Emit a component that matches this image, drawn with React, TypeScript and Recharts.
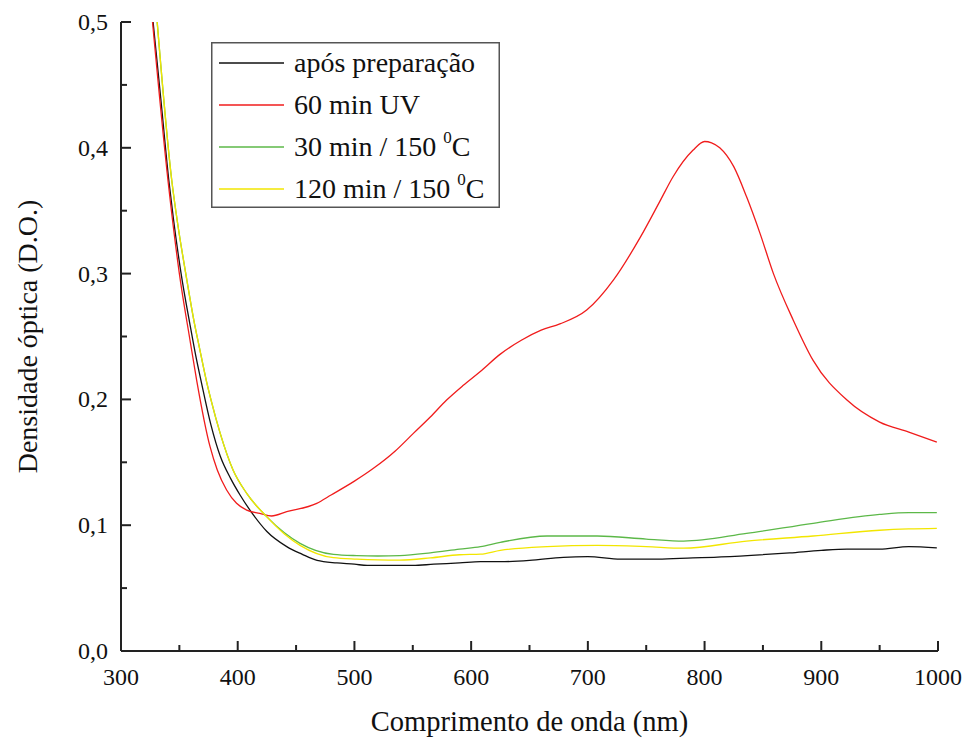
import React from 'react';
import { LineChart, Line, XAxis, YAxis, Legend } from 'recharts';

// ---- data (wavelength in nm, optical density) ----
const blackNm = [327.5, 334, 341, 345, 351.5, 359, 364, 369, 377, 385, 394, 402, 412, 425, 442, 455, 468, 485, 500, 511, 530, 550, 568, 590, 608, 625, 650, 679, 700, 728, 760, 790, 808, 840, 873, 900, 922, 950, 975, 999];
const blackD = [0.5, 0.44, 0.374, 0.343, 0.3, 0.26, 0.235, 0.213, 0.18, 0.155, 0.137, 0.124, 0.11, 0.095, 0.083, 0.077, 0.072, 0.07, 0.069, 0.068, 0.068, 0.068, 0.069, 0.07, 0.071, 0.071, 0.072, 0.0745, 0.075, 0.073, 0.073, 0.074, 0.0745, 0.076, 0.078, 0.08, 0.081, 0.081, 0.083, 0.082];

const redNm = [327, 340.5, 350, 359.5, 364.8, 376.3, 382.5, 390.5, 399, 407.7, 419, 429, 442, 467.7, 480, 500, 516, 535, 550.5, 565, 579, 593, 607.6, 625, 643, 660, 676, 699, 722, 745, 762, 773, 790, 800, 806, 813, 825, 836, 847.5, 859, 876, 893, 922, 950, 975, 999];
const redD = [0.5, 0.372, 0.3, 0.245, 0.2154, 0.1624, 0.1439, 0.128, 0.1174, 0.112, 0.1094, 0.1073, 0.1107, 0.1174, 0.124, 0.135, 0.145, 0.159, 0.173, 0.186, 0.1995, 0.211, 0.222, 0.236, 0.247, 0.255, 0.26, 0.271, 0.295, 0.329, 0.358, 0.377, 0.398, 0.405, 0.404, 0.4, 0.385, 0.361, 0.332, 0.3, 0.263, 0.231, 0.1995, 0.182, 0.174, 0.166];

const greenNm = [331, 343.5, 348.5, 355.5, 363, 367, 373, 377, 385, 396, 407.7, 424.8, 440, 453.4, 482, 502, 520, 539, 565, 590, 608, 625, 665, 708, 750, 782, 836, 893, 950, 975, 999];
const greenD = [0.5, 0.374, 0.34, 0.3, 0.26, 0.242, 0.2154, 0.2, 0.173, 0.1439, 0.1253, 0.1068, 0.094, 0.0856, 0.0768, 0.0758, 0.0755, 0.0758, 0.078, 0.081, 0.083, 0.0864, 0.0914, 0.0914, 0.089, 0.0874, 0.0935, 0.1015, 0.1086, 0.11, 0.11];

const yellowNm = [331, 343.5, 348.5, 355.5, 363, 367, 373, 377, 385, 396, 407.7, 424.8, 440, 453.4, 482, 502, 520, 539, 565, 590, 608, 625, 665, 708, 750, 782, 836, 893, 950, 975, 999];
const yellowD = [0.5, 0.374, 0.34, 0.3, 0.26, 0.242, 0.2154, 0.2, 0.173, 0.1439, 0.1253, 0.1068, 0.093, 0.084, 0.0742, 0.0731, 0.0725, 0.0723, 0.074, 0.0765, 0.077, 0.08, 0.083, 0.084, 0.083, 0.0817, 0.0874, 0.0914, 0.096, 0.097, 0.0975];

const xTicks = [300, 350, 400, 450, 500, 550, 600, 650, 700, 750, 800, 850, 900, 950, 1000];
const yTicks = [0, 0.05, 0.1, 0.15, 0.2, 0.25, 0.3, 0.35, 0.4, 0.45, 0.5];

const xTitle = 'Comprimento de onda (nm)';
const yTitle = 'Densidade óptica (D.O.)';

const seriesNames = ['após preparação', '60 min UV', '30 min / 150 ', '120 min / 150 '];
const seriesSup = ['', '', '0', '0'];
const seriesSuffix = ['', '', 'C', 'C'];
const seriesColors = ['#111111', '#f01c1c', '#5cb848', '#f2e600'];

const toPoints = (xs: number[], ys: number[]) => xs.map((nm, i) => ({ nm, d: ys[i] }));
const seriesData = [
  toPoints(blackNm, blackD),
  toPoints(redNm, redD),
  toPoints(greenNm, greenD),
  toPoints(yellowNm, yellowD),
];

const FONT = "'Liberation Serif', 'Times New Roman', serif";
const AXIS = '#222222';
const TEXT = '#111111';
const isMajorX = (v: number) => v % 100 === 0;
const isMajorY = (v: number) => Math.round(v * 100) % 10 === 0;
const fmtY = (v: number) => v.toFixed(1).replace('.', ',');

const BottomTick = (p: any) => {
  const v = p.payload.value;
  const len = isMajorX(v) ? 10 : 6;
  return (
    <g>
      <line x1={p.x} y1={p.y} x2={p.x} y2={p.y - len} stroke={AXIS} strokeWidth={2} />
      {isMajorX(v) && (
        <text x={p.x} y={p.y + 34} textAnchor="middle" fontSize={24} fontFamily={FONT} fill={TEXT}>
          {v}
        </text>
      )}
    </g>
  );
};
const TopTick = (p: any) => {
  const v = p.payload.value;
  const len = isMajorX(v) ? 10 : 6;
  return <line x1={p.x} y1={p.y} x2={p.x} y2={p.y + len} stroke={AXIS} strokeWidth={2} />;
};
const LeftTick = (p: any) => {
  const v = p.payload.value;
  const len = isMajorY(v) ? 10 : 6;
  return (
    <g>
      <line x1={p.x} y1={p.y} x2={p.x + len} y2={p.y} stroke={AXIS} strokeWidth={2} />
      {isMajorY(v) && (
        <text x={p.x - 13} y={p.y + 8} textAnchor="end" fontSize={24} fontFamily={FONT} fill={TEXT}>
          {fmtY(v)}
        </text>
      )}
    </g>
  );
};
const RightTick = (p: any) => {
  const v = p.payload.value;
  const len = isMajorY(v) ? 10 : 6;
  return <line x1={p.x} y1={p.y} x2={p.x - len} y2={p.y} stroke={AXIS} strokeWidth={2} />;
};

const XTitle = (p: any) => {
  const vb = p.viewBox || {};
  const cx = vb.x + vb.width / 2;
  return (
    <text x={cx} y={vb.y + 80} textAnchor="middle" fontSize={28.5} fontFamily={FONT} fill={TEXT}>
      {xTitle}
    </text>
  );
};
const YTitle = (p: any) => {
  const vb = p.viewBox || {};
  const cx = vb.x + 37;
  const cy = vb.y + vb.height / 2;
  return (
    <text
      x={cx}
      y={cy}
      textAnchor="middle"
      fontSize={28}
      fontFamily={FONT}
      fill={TEXT}
      transform={`rotate(-90, ${cx}, ${cy})`}
    >
      {yTitle}
    </text>
  );
};

const LegendBox = () => (
  <svg width={289} height={166} style={{ display: 'block' }}>
    <rect x={0.75} y={0.75} width={287.5} height={164.5} fill="#fff" stroke="#555" strokeWidth={1.5} />
    {seriesNames.map((name, i) => {
      const cy = 21 + i * 42;
      return (
        <g key={name}>
          <line x1={8} y1={cy} x2={73} y2={cy} stroke={seriesColors[i]} strokeWidth={1.3} />
          <text x={83} y={cy + 9} fontSize={28} fontFamily={FONT} fill={TEXT}>
            {name}
            {seriesSup[i] && (
              <tspan fontSize={17} dy={-13}>
                {seriesSup[i]}
              </tspan>
            )}
            {seriesSuffix[i] && <tspan dy={13}>{seriesSuffix[i]}</tspan>}
          </text>
        </g>
      );
    })}
  </svg>
);

export default function App() {
  return (
    <div style={{ position: 'absolute', left: 0, top: 0, width: 964, height: 740, background: '#fff' }}>
      <LineChart width={964} height={740} margin={{ top: 22, right: 26, left: 0, bottom: 0 }}>
        <XAxis
          xAxisId="main"
          type="number"
          dataKey="nm"
          domain={[300, 1000]}
          ticks={xTicks}
          allowDataOverflow
          height={89}
          tickSize={0}
          tickMargin={0}
          tickLine={false}
          axisLine={{ stroke: AXIS, strokeWidth: 2 }}
          tick={<BottomTick />}
          interval={0}
          label={{ content: XTitle }}
        />
        <XAxis
          xAxisId="top"
          orientation="top"
          type="number"
          dataKey="nm"
          domain={[300, 1000]}
          ticks={xTicks}
          allowDataOverflow
          height={0}
          tickSize={0}
          tickMargin={0}
          tickLine={false}
          axisLine={{ stroke: AXIS, strokeWidth: 2 }}
          tick={<TopTick />}
          interval={0}
        />
        <YAxis
          yAxisId="main"
          type="number"
          domain={[0, 0.5]}
          ticks={yTicks}
          allowDataOverflow
          width={121}
          tickSize={0}
          tickMargin={0}
          tickLine={false}
          axisLine={{ stroke: AXIS, strokeWidth: 2 }}
          tick={<LeftTick />}
          interval={0}
          label={{ content: YTitle }}
        />
        <YAxis
          yAxisId="right"
          orientation="right"
          type="number"
          domain={[0, 0.5]}
          ticks={yTicks}
          allowDataOverflow
          width={0}
          tickSize={0}
          tickMargin={0}
          tickLine={false}
          axisLine={{ stroke: AXIS, strokeWidth: 2 }}
          tick={<RightTick />}
          interval={0}
        />
        <Legend
          layout="vertical"
          align="center"
          verticalAlign="middle"
          content={() => <LegendBox />}
          wrapperStyle={{ position: 'absolute', left: 211, top: 42, width: 289, height: 166 }}
        />
        {seriesData.map((data, i) => (
          <Line
            key={seriesNames[i]}
            xAxisId="main"
            yAxisId="main"
            data={data}
            dataKey="d"
            name={seriesNames[i]}
            type="monotone"
            stroke={seriesColors[i]}
            strokeWidth={1.3}
            dot={false}
            activeDot={false}
            isAnimationActive={false}
          />
        ))}
      </LineChart>
    </div>
  );
}
